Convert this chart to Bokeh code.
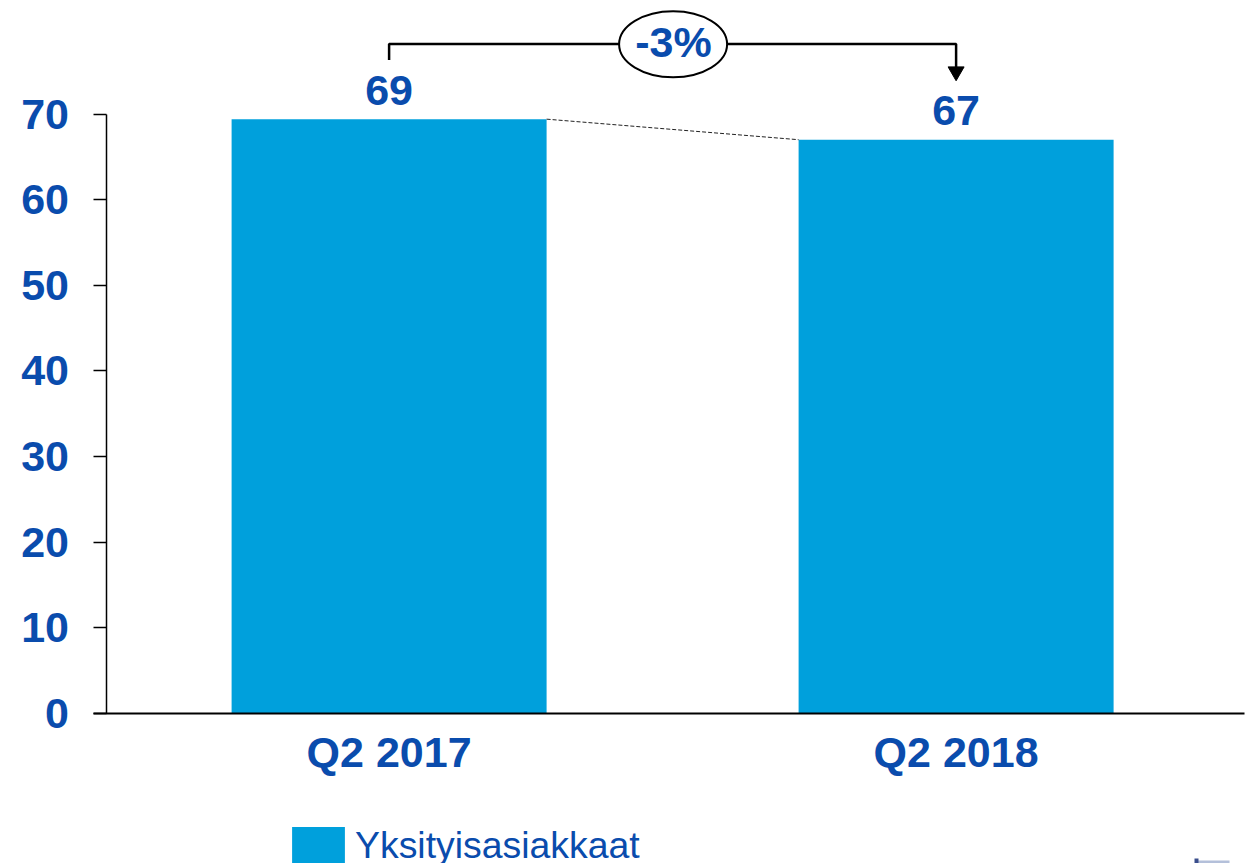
from bokeh.plotting import figure
from bokeh.models import Range1d, FixedTicker, Legend, LegendItem, ColumnDataSource
from bokeh.core.properties import value
from bokeh.embed import file_html
from bokeh.resources import INLINE

categories = ["Q2 2017", "Q2 2018"]
values = [69.4, 67.0]
value_labels = ["69", "67"]
y_ticks = [0, 10, 20, 30, 40, 50, 60, 70]
change_label = "-3%"
series_name = "Yksityisasiakkaat"

BAR = "#00A0DC"
BLUE = "#0A4CAD"
FONT = "Liberation Sans"
W, H = 1245, 863
X0, XU = 388.6, 567.0   # pixel of category 0, pixels per category
Y0, YU = 713.0, 8.564   # pixel of value 0, pixels per unit
def xd(px): return (px - X0) / XU
def yd(px): return (Y0 - px) / YU

p = figure(width=W, height=H, output_backend="svg", toolbar_location=None,
           x_range=Range1d(xd(0), xd(W)), y_range=Range1d(yd(H), yd(0)),
           min_border_left=0, min_border_right=0, min_border_top=0, min_border_bottom=0,
           outline_line_color=None, background_fill_color=None, border_fill_color=None)
p.grid.visible = False

xs = list(range(len(categories)))
src = ColumnDataSource(dict(x=xs, top=values, label=value_labels))
bars = p.vbar(x="x", top="top", bottom=0, width=315 / XU, source=src, fill_color=BAR, line_color=None)

# value labels
p.text(x="x", y="top", text="label", source=src, text_color=BLUE, text_font=value(FONT),
       text_font_style="bold", text_font_size="43px", text_align="center",
       text_baseline="alphabetic", y_offset=-29)

# dashed connector
hw = 315 / XU / 2
p.line([xs[0] + hw, xs[1] - hw], values, line_color="#222222", line_width=1, line_dash="4 2")

# bracket
yb = yd(43.5)
p.line([0, 0, 1, 1], [yd(59.5), yb, yb, yd(68)], line_color="black", line_width=2.5)
p.scatter([1], [yd(71)], marker="inverted_triangle", size=16, color="black")
p.ellipse([xd(672.6)], [yd(43.7)], width=108, height=66, width_units="screen", height_units="screen",
          fill_color="white", line_color="black", line_width=2)
p.text([xd(673)], [yd(41)], text=[change_label], text_color=BLUE, text_font=value(FONT),
       text_font_style="bold", text_font_size="43px", text_align="center", text_baseline="alphabetic")

# small logo fragment at the bottom right
p.quad(left=[xd(1196)], right=[xd(1229)], top=[yd(860)], bottom=[yd(863)], fill_color="#B4C0DA", line_color=None)
p.quad(left=[xd(1194)], right=[xd(1198)], top=[yd(858)], bottom=[yd(863)], fill_color="#3A4E8C", line_color=None)

# axes
ya = p.yaxis[0]
ya.fixed_location = xd(105.5)
ya.ticker = FixedTicker(ticks=y_ticks)
ya.bounds = (0, 70)
ya.axis_line_color = "black"
ya.axis_line_width = 1.5
ya.major_tick_line_color = "black"
ya.major_tick_line_width = 1.5
ya.major_tick_in = 0
ya.major_tick_out = 13
ya.minor_tick_line_color = None
ya.major_label_standoff = 24
ya.major_label_text_color = BLUE
ya.major_label_text_font = FONT
ya.major_label_text_font_style = "bold"
ya.major_label_text_font_size = "43px"

xa = p.xaxis[0]
xa.fixed_location = 0
xa.ticker = FixedTicker(ticks=xs)
xa.bounds = (xd(92.5), xd(1244))
xa.major_label_overrides = {i: c for i, c in zip(xs, categories)}
xa.axis_line_color = "black"
xa.axis_line_width = 2
xa.major_tick_line_color = None
xa.minor_tick_line_color = None
xa.major_tick_out = 0
xa.major_tick_in = 0
xa.major_label_standoff = 14
xa.major_label_text_color = BLUE
xa.major_label_text_font = FONT
xa.major_label_text_font_style = "bold"
xa.major_label_text_font_size = "43px"

legend = Legend(items=[LegendItem(label=series_name, renderers=[bars])],
                location=(285, -5), orientation="horizontal",
                glyph_width=66, glyph_height=46, label_standoff=4, padding=0, margin=0,
                border_line_color=None, background_fill_alpha=0,
                label_text_color=BLUE, label_text_font=FONT, label_text_font_size="37.4px")
p.add_layout(legend, "center")

open("out.html", "w").write(file_html(p, INLINE))
